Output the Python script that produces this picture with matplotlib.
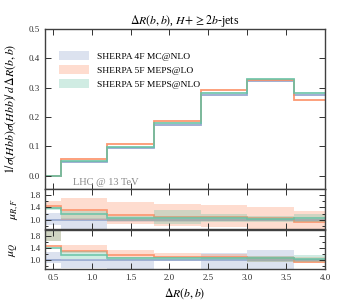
import matplotlib
matplotlib.use("Agg")
import matplotlib.pyplot as plt
from matplotlib.ticker import FixedLocator, MultipleLocator, NullFormatter

plt.rcParams['font.family'] = ['Liberation Serif', 'DejaVu Serif']
plt.rcParams['mathtext.fontset'] = 'stix'

# bin edges in Delta R(b,b)
edges = [0.4, 0.6, 1.2, 1.8, 2.4, 3.0, 3.6, 4.0]

labels = ["SHERPA 4F MC@NLO", "SHERPA 5F MEPS@LO", "SHERPA 5F MEPS@NLO"]
colors = ["#8da0cb", "#fc8d62", "#66c2a5"]

# normalised distributions
main_4f = [0.0, 0.047, 0.095, 0.174, 0.275, 0.322, 0.276]
main_5f_lo = [0.0, 0.058, 0.109, 0.188, 0.291, 0.326, 0.260]
main_5f_nlo = [0.0, 0.051, 0.097, 0.181, 0.282, 0.329, 0.283]

# mu_R,F variation panel (ratio to 4F)
murf_4f = [1.0, 1.0, 1.0, 1.0, 1.0, 1.0, 1.0]
murf_4f_dn = [0.83, 0.65, 0.93, 0.94, 0.95, 0.96, 0.96]
murf_4f_up = [1.23, 1.05, 1.04, 1.04, 1.04, 1.03, 1.03]
murf_lo = [1.43, 1.30, 1.15, 1.10, 1.08, 1.06, 0.94]
murf_lo_dn = [1.35, 1.00, 0.86, 0.80, 0.75, 0.69, 0.65]
murf_lo_up = [1.62, 1.71, 1.58, 1.52, 1.48, 1.42, 1.28]
murf_nlo = [1.38, 1.18, 1.06, 1.05, 1.04, 1.03, 1.05]
murf_nlo_dn = [1.33, 1.02, 0.95, 0.86, 0.91, 0.93, 0.94]
murf_nlo_up = [1.40, 1.28, 1.12, 1.30, 1.19, 1.12, 1.17]

# mu_Q variation panel (ratio to 4F)
muq_4f = [1.0, 1.0, 1.0, 1.0, 1.0, 1.0, 1.0]
muq_4f_dn = [0.89, 0.74, 0.72, 0.97, 0.65, 0.65, 0.97]
muq_4f_up = [1.26, 1.02, 1.03, 1.03, 1.25, 1.32, 1.03]
muq_lo = [1.47, 1.30, 1.17, 1.11, 1.10, 1.08, 0.94]
muq_lo_dn = [1.63, 1.22, 1.08, 1.07, 1.05, 0.95, 0.92]
muq_lo_up = [2.10, 1.50, 1.32, 1.24, 1.20, 1.15, 1.09]
muq_nlo = [1.39, 1.18, 1.07, 1.07, 1.07, 1.06, 1.05]
muq_nlo_dn = [1.63, 1.05, 1.00, 1.02, 1.02, 0.95, 0.95]
muq_nlo_up = [2.10, 1.30, 1.12, 1.10, 1.10, 1.15, 1.18]

fig = plt.figure(figsize=(3.6, 3.0), dpi=100)
ax = fig.add_axes([0.125, 0.37, 0.778, 0.533])
ax1 = fig.add_axes([0.125, 0.237, 0.778, 0.133])
ax2 = fig.add_axes([0.125, 0.103, 0.778, 0.13])

spine_col = "#404040"
for a in (ax, ax1, ax2):
    a.set_xlim(0.4, 4.0)
    a.xaxis.set_major_locator(MultipleLocator(0.5))
    a.tick_params(direction="in", which="both", top=True, right=True,
                  labelsize=6.5, colors="#303030", width=0.7)
    a.tick_params(which="major", length=4)
    a.tick_params(which="minor", length=2)
    for s in a.spines.values():
        s.set_color(spine_col)
        s.set_linewidth(1.0)

# main panel: step lines
for vals, c, lab in zip([main_4f, main_5f_lo, main_5f_nlo], colors, labels):
    ax.stairs(vals, edges, baseline=None, color=c, lw=1.3, alpha=0.9)
    ax.fill_between([], [], color=c, alpha=0.3, lw=0, label=lab)

ax.set_ylim(-0.045, 0.5)
ax.yaxis.set_major_locator(MultipleLocator(0.1))
ax.xaxis.set_major_formatter(NullFormatter())
ax.set_ylabel(r"$1/\sigma(Hbb)\sigma(Hbb)/\,d\,\Delta R(b,b)$", fontsize=8.5,
              labelpad=8)
ax.set_title(r"$\Delta R(b,b)$, $H\!+\geq 2b$-jets", fontsize=8.5, pad=3)
ax.text(0.1, 0.025, "LHC @ 13 TeV", transform=ax.transAxes, color="#888888",
        fontsize=7.5)
ax.legend(loc="upper left", bbox_to_anchor=(0.02, 0.915), frameon=False,
          fontsize=6.8, handlelength=3.2, handleheight=1.1, labelspacing=0.45)


def ratio_panel(a, lines, lows, ups, ylab):
    for vals, lo, up, c in zip(lines, lows, ups, colors):
        a.stairs(up, edges, baseline=lo, fill=True, color=c, alpha=0.3, lw=0)
        a.stairs(vals, edges, baseline=None, color=c, lw=1.2, alpha=0.9)
    a.set_ylim(0.7, 2.0)
    a.yaxis.set_major_locator(FixedLocator([1.0, 1.4, 1.8]))
    a.yaxis.set_minor_locator(FixedLocator([0.8, 1.2, 1.6]))
    a.set_ylabel(ylab, fontsize=8.5, labelpad=6)


ratio_panel(ax1, [murf_4f, murf_lo, murf_nlo],
            [murf_4f_dn, murf_lo_dn, murf_nlo_dn],
            [murf_4f_up, murf_lo_up, murf_nlo_up], r"$\mu_{R,F}$")
ax1.xaxis.set_major_formatter(NullFormatter())

ratio_panel(ax2, [muq_4f, muq_lo, muq_nlo],
            [muq_4f_dn, muq_lo_dn, muq_nlo_dn],
            [muq_4f_up, muq_lo_up, muq_nlo_up], r"$\mu_{Q}$")
ax2.set_xlabel(r"$\Delta R(b,b)$", fontsize=8.5, labelpad=3)

fig.align_ylabels([ax, ax1, ax2])
fig.savefig("out.png", dpi=100)
